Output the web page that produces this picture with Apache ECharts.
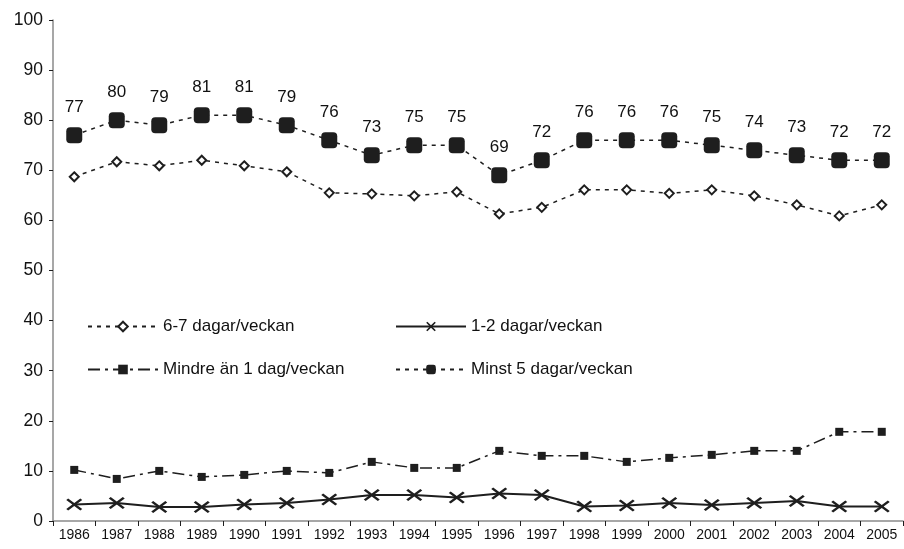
<!DOCTYPE html>
<html>
<head>
<meta charset="utf-8">
<script src="https://cdn.jsdelivr.net/npm/echarts@6/dist/echarts.min.js"></script>
<style>
  html, body { margin: 0; padding: 0; background: #fff; }
  #chart { width: 904px; height: 549px; }
</style>
</head>
<body>
<div id="chart"></div>
<script>
const years = ['1986','1987','1988','1989','1990','1991','1992','1993','1994','1995',
               '1996','1997','1998','1999','2000','2001','2002','2003','2004','2005'];
const yTicks = [0, 10, 20, 30, 40, 50, 60, 70, 80, 90, 100];

const sexSju = [68.7, 71.7, 70.9, 72.0, 70.9, 69.7, 65.5, 65.3, 64.9, 65.7,
                61.3, 62.6, 66.1, 66.1, 65.4, 66.1, 64.9, 63.1, 60.9, 63.1];
const ettTva = [3.3, 3.6, 2.8, 2.8, 3.3, 3.6, 4.3, 5.2, 5.2, 4.7,
                5.5, 5.2, 2.9, 3.1, 3.6, 3.2, 3.6, 4.0, 2.9, 2.9];
const mindre = [10.2, 8.4, 10.0, 8.8, 9.2, 10.0, 9.6, 11.8, 10.6, 10.6,
                14.0, 13.0, 13.0, 11.8, 12.6, 13.2, 14.0, 14.0, 17.8, 17.8];
const minst5 = [77, 80, 79, 81, 81, 79, 76, 73, 75, 75,
                69, 72, 76, 76, 76, 75, 74, 73, 72, 72];

const names = ['6-7 dagar/veckan', '1-2 dagar/veckan', 'Mindre än 1 dag/veckan', 'Minst 5 dagar/veckan'];

const ink = '#1e1e1e';
const axisGrey = '#8a8a8a';
const FONT = '"Liberation Sans", Arial, Helvetica, sans-serif';
const xPath = 'path://M0,1.2 L1.2,0 L5,3.8 L8.8,0 L10,1.2 L6.2,5 L10,8.8 L8.8,10 L5,6.2 L1.2,10 L0,8.8 L3.8,5 Z';

const chart = echarts.init(document.getElementById('chart'), null, { renderer: 'canvas' });

const legendText = { fontFamily: FONT, fontSize: 17, color: '#111' };

chart.setOption({
  backgroundColor: '#ffffff',
  animation: false,
  textStyle: { fontFamily: FONT },
  grid: { left: 53, right: 1, top: 20, bottom: 28, containLabel: false },
  legend: [
    {
      orient: 'vertical', left: 82, top: 313, itemWidth: 70, itemHeight: 12, itemGap: 26,
      textStyle: legendText, data: [names[0], names[2]], selectedMode: false
    },
    {
      orient: 'vertical', left: 390, top: 313, itemWidth: 70, itemHeight: 12, itemGap: 26,
      textStyle: legendText, data: [names[1], names[3]], selectedMode: false
    }
  ],
  xAxis: {
    type: 'category',
    data: years,
    boundaryGap: true,
    axisLine: { lineStyle: { color: axisGrey, width: 1.5 } },
    axisTick: { show: true, length: 5, inside: false, lineStyle: { color: ink, width: 1 } },
    axisLabel: { interval: 0, fontFamily: FONT, fontSize: 14, color: '#111', margin: 7 },
    splitLine: { show: false }
  },
  yAxis: {
    type: 'value',
    min: yTicks[0],
    max: yTicks[yTicks.length - 1],
    interval: 10,
    axisLine: { show: true, lineStyle: { color: axisGrey, width: 1.5 } },
    axisTick: { show: true, length: 4, inside: false, lineStyle: { color: ink, width: 1 } },
    axisLabel: { fontFamily: FONT, fontSize: 17.5, color: '#111', margin: 10 },
    splitLine: { show: false }
  },
  series: [
    {
      name: names[0], type: 'line', data: sexSju,
      symbol: 'diamond', symbolSize: 9,
      itemStyle: { color: '#ffffff', borderColor: ink, borderWidth: 2 },
      lineStyle: { color: ink, width: 1.5, type: [4, 5] },
      z: 3
    },
    {
      name: names[1], type: 'line', data: ettTva,
      symbol: xPath, symbolSize: [16, 12], symbolKeepAspect: false,
      itemStyle: { color: ink },
      lineStyle: { color: ink, width: 2, type: 'solid' },
      z: 3
    },
    {
      name: names[2], type: 'line', data: mindre,
      symbol: 'rect', symbolSize: 8,
      itemStyle: { color: ink },
      lineStyle: { color: ink, width: 1.5, type: [12, 5, 3, 5] },
      z: 3
    },
    {
      name: names[3], type: 'line', data: minst5,
      symbol: 'roundRect', symbolSize: 16,
      itemStyle: { color: ink },
      lineStyle: { color: ink, width: 1.5, type: [4, 5] },
      label: {
        show: true, position: 'top', distance: 11,
        fontFamily: FONT, fontSize: 17, color: '#111'
      },
      z: 4
    }
  ]
});
</script>
</body>
</html>
